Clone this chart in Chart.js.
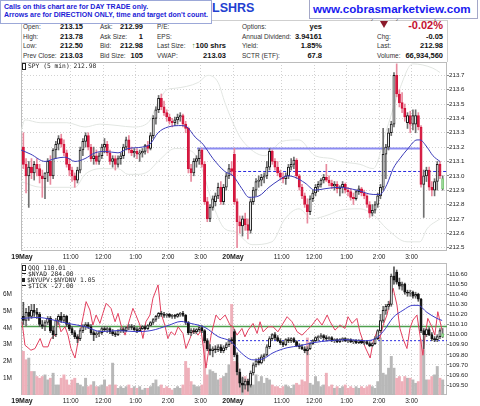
<!DOCTYPE html>
<html>
<head>
<meta charset="utf-8">
<script src="https://cdn.jsdelivr.net/npm/chart.js@4.4.0/dist/chart.umd.min.js"></script>
<style>
    body { margin: 0; background: #fff; font-family: "Liberation Sans", Arial, sans-serif; }
    #tela { position: relative; width: 480px; height: 406px; overflow: hidden; background: #fff; }
    .t { position: absolute; font-size: 6.5px; color: #333; line-height: 9px; white-space: nowrap; }
    .v { position: absolute; font-size: 7.5px; font-weight: bold; color: #111; line-height: 9px; text-align: right; white-space: nowrap; }
    .leg { position: absolute; left: 22px; font-family: "DejaVu Sans Mono", monospace; font-size: 6.3px; color: #222; white-space: nowrap; z-index: 2; }
    .icone { display: inline-block; vertical-align: middle; margin-right: 2px; }
    #aviso { position: absolute; left: 0; top: 0; width: 204px; height: 20px; padding: 2px 3px 0 3px; border: 1px solid #9ca8d8;
             background: #fff; color: #1c1cd6; font-weight: bold; font-size: 7px; line-height: 8px; z-index: 3; white-space: nowrap; }
    #simbolo { position: absolute; left: 212px; top: 1px; font-size: 12.5px; font-weight: bold; color: #2340d0; }
    #data { position: absolute; right: 36px; top: 13px; font-size: 7px; color: #666; }
    #site { position: absolute; left: 309px; top: -1px; width: 164px; height: 18px; padding-left: 3px; border: 1px solid #a4a8c8;
            background: #fff; color: #1a1af0; font-weight: bold; font-size: 11.6px; line-height: 18px; z-index: 3; }
    #moldura { position: absolute; left: 21px; top: 20px; width: 425px; height: 41px; border: 1px solid #cfcfcf; border-bottom: none; }
    canvas { position: absolute; left: 0; }
</style>
</head>
<body>
<div id="tela">
    <div id="moldura"></div>
    <div id="data">Wednesday 20 May 2015 3:51 pm</div>
    <div id="aviso">Calls on this chart are for DAY TRADE only.<br>Arrows are for DIRECTION ONLY, time and target don't count.</div>
    <div id="simbolo">LSHRS</div>
    <div id="site">www.cobrasmarketview.com</div>

    <div class="t" style="left:23px;top:22px">Open:</div><div class="v" style="right:397px;top:22px">213.15</div>
    <div class="t" style="left:100px;top:22px">Ask:</div><div class="v" style="right:337px;top:22px">212.99</div>
    <div class="t" style="left:157px;top:22px">P/E:</div>
    <div class="t" style="left:242px;top:22px">Options:</div><div class="v" style="right:158px;top:22px">yes</div>
    <div style="position:absolute;left:380px;top:21px;width:0;height:0;border-left:4px solid transparent;border-right:4px solid transparent;border-top:7px solid #8b1a2b"></div>
    <div class="v" style="right:37px;top:19px;font-size:11px;line-height:12px;color:#c41230">-0.02%</div>

    <div class="t" style="left:23px;top:31.5px">High:</div><div class="v" style="right:397px;top:31.5px">213.78</div>
    <div class="t" style="left:100px;top:31.5px">Ask Size:</div><div class="v" style="right:337px;top:31.5px">1</div>
    <div class="t" style="left:157px;top:31.5px">EPS:</div>
    <div class="t" style="left:242px;top:31.5px">Annual Dividend:</div><div class="v" style="right:158px;top:31.5px">3.94161</div>
    <div class="t" style="left:377px;top:31.5px">Chg:</div><div class="v" style="right:37px;top:31.5px">-0.05</div>

    <div class="t" style="left:23px;top:41px">Low:</div><div class="v" style="right:397px;top:41px">212.50</div>
    <div class="t" style="left:100px;top:41px">Bid:</div><div class="v" style="right:337px;top:41px">212.98</div>
    <div class="t" style="left:157px;top:41px">Last Size:</div><div class="v" style="right:254px;top:41px"><span style="color:#2a8a2a">&#8593;</span>100 shrs</div>
    <div class="t" style="left:242px;top:41px">Yield:</div><div class="v" style="right:158px;top:41px">1.85%</div>
    <div class="t" style="left:377px;top:41px">Last:</div><div class="v" style="right:37px;top:41px">212.98</div>

    <div class="t" style="left:23px;top:50.5px">Prev Close:</div><div class="v" style="right:397px;top:50.5px">213.03</div>
    <div class="t" style="left:100px;top:50.5px">Bid Size:</div><div class="v" style="right:337px;top:50.5px">105</div>
    <div class="t" style="left:157px;top:50.5px">VWAP:</div><div class="v" style="right:254px;top:50.5px">213.03</div>
    <div class="t" style="left:242px;top:50.5px">SCTR (ETF):</div><div class="v" style="right:158px;top:50.5px">67.8</div>
    <div class="t" style="left:377px;top:50.5px">Volume:</div><div class="v" style="right:37px;top:50.5px">66,934,560</div>

    <canvas id="graficoPreco" width="480" height="202" style="top:60px"></canvas>
    <canvas id="graficoInferior" width="480" height="144" style="top:262px"></canvas>

    <div class="leg" style="top:62px"><span class="icone" style="width:2px;height:5px;border:1px solid #222"></span>SPY (5 min) 212.98</div>
    <div class="leg" style="top:263.5px"><span class="icone" style="width:2px;height:4px;border:1px solid #222"></span>QQQ 110.01</div>
    <div class="leg" style="top:269.5px"><span class="icone" style="width:4px;height:1px;background:#222"></span>$NYAD 284.00</div>
    <div class="leg" style="top:275.5px"><span class="icone" style="width:3px;height:4px;background:#222"></span>$NYUPV:$NYDNV 1.05</div>
    <div class="leg" style="top:281.5px"><span class="icone" style="width:4px;height:1px;background:#222"></span>$TICK -27.00</div>
</div>

<script>
// eixo do tempo: posicao em barras de 5 min (78 por pregao)
var posHoras = [0, 18, 30, 42, 54, 66, 78, 96, 108, 120, 132, 144];
var rotHoras = ['19May', '11:00', '12:00', '1:00', '2:00', '3:00', '20May', '11:00', '12:00', '1:00', '2:00', '3:00'];
var inicioDias = [0, 78];

var spyTicks = [212.5, 212.6, 212.7, 212.8, 212.9, 213.0, 213.1, 213.2, 213.3, 213.4, 213.5, 213.6, 213.7];
var qqqTicks = [109.5, 109.6, 109.7, 109.8, 109.9, 110.0, 110.1, 110.2, 110.3, 110.4, 110.5, 110.6];
var volTicks = [1, 2, 3, 4, 5, 6];

// SPY 5 min
var spyAbre = [
    213.20, 213.08, 213.00, 213.06, 213.02, 213.08, 213.05, 213.00, 212.98, 213.02,
    213.10, 213.00, 213.18, 213.22, 213.26, 213.22, 213.16, 213.08, 213.04, 213.00,
    212.97, 213.04, 213.18, 213.24, 213.28, 213.20, 213.12, 213.14, 213.10, 213.14,
    213.20, 213.22, 213.16, 213.10, 213.12, 213.08, 213.12, 213.14, 213.20, 213.25,
    213.18, 213.16, 213.17, 213.15, 213.16, 213.17, 213.21, 213.19, 213.28, 213.40,
    213.46, 213.54, 213.48, 213.44, 213.41, 213.38, 213.37, 213.39, 213.41, 213.42,
    213.36, 213.33, 213.05, 213.02, 213.10, 213.12, 213.18, 213.08, 212.82, 212.70,
    212.78, 212.82, 212.86, 212.92, 212.82, 212.92, 213.00, 213.05,
    213.15, 212.82, 212.68, 212.65, 212.70, 212.66, 212.62, 212.82, 212.90, 212.96,
    212.97, 212.99, 213.00, 213.06, 213.17, 213.10, 213.06, 213.02, 212.99, 212.98,
    213.00, 213.06, 213.08, 213.11, 213.00, 212.92, 212.86, 212.80, 212.75, 212.84,
    212.88, 212.92, 212.94, 212.97, 212.99, 212.97, 212.95, 212.93, 212.94, 212.91,
    212.92, 212.94, 212.90, 212.89, 212.85, 212.84, 212.89, 212.91, 212.88, 212.86,
    212.80, 212.74, 212.76, 212.80, 212.86, 212.92, 213.15, 213.20, 213.30, 213.36,
    213.70, 213.57, 213.51, 213.47, 213.37, 213.42, 213.36, 213.36, 213.42, 213.34,
    212.94, 213.00, 213.04, 212.92, 212.90, 212.96, 213.08, 212.91];
var spyMax = [
    213.30, 213.12, 213.10, 213.12, 213.10, 213.12, 213.08, 213.04, 213.02, 213.12,
    213.14, 213.19, 213.24, 213.28, 213.29, 213.25, 213.18, 213.12, 213.06, 213.02,
    213.06, 213.20, 213.26, 213.30, 213.30, 213.22, 213.20, 213.18, 213.16, 213.22,
    213.26, 213.24, 213.18, 213.14, 213.14, 213.14, 213.16, 213.22, 213.27, 213.28,
    213.20, 213.19, 213.19, 213.18, 213.19, 213.22, 213.24, 213.30, 213.42, 213.48,
    213.56, 213.57, 213.52, 213.46, 213.43, 213.40, 213.41, 213.43, 213.44, 213.43,
    213.38, 213.34, 213.08, 213.12, 213.14, 213.19, 213.19, 213.10, 212.85, 212.80,
    212.86, 212.88, 212.95, 212.96, 212.94, 213.02, 213.08, 213.10,
    213.19, 212.84, 212.72, 212.72, 212.74, 212.70, 212.84, 212.92, 212.98, 213.00,
    213.01, 213.02, 213.10, 213.19, 213.18, 213.12, 213.10, 213.04, 213.02, 213.02,
    213.08, 213.12, 213.13, 213.12, 213.01, 212.94, 212.88, 212.84, 212.86, 212.90,
    212.94, 212.96, 212.98, 213.01, 213.08, 213.00, 212.97, 212.96, 212.96, 212.93,
    212.96, 212.95, 212.92, 212.91, 212.88, 212.90, 212.93, 212.92, 212.90, 212.87,
    212.82, 212.80, 212.82, 212.88, 212.94, 213.33, 213.22, 213.33, 213.38, 213.72,
    213.78, 213.60, 213.58, 213.50, 213.44, 213.45, 213.46, 213.46, 213.44, 213.35,
    213.04, 213.06, 213.06, 212.96, 212.98, 213.10, 213.10, 213.00];
var spyMin = [
    213.05, 212.88, 212.78, 212.98, 212.97, 213.00, 212.95, 212.85, 212.84, 212.96,
    212.94, 212.98, 213.12, 213.18, 213.20, 213.14, 213.06, 213.00, 212.96, 212.92,
    212.95, 213.02, 213.14, 213.20, 213.18, 213.10, 213.08, 213.08, 213.08, 213.12,
    213.16, 213.14, 213.08, 213.06, 213.04, 213.06, 213.08, 213.12, 213.18, 213.16,
    213.14, 213.13, 213.12, 213.10, 213.13, 213.15, 213.16, 213.18, 213.26, 213.36,
    213.44, 213.46, 213.42, 213.38, 213.36, 213.34, 213.35, 213.36, 213.38, 213.34,
    213.30, 213.02, 212.96, 213.00, 213.06, 213.08, 213.06, 212.80, 212.68, 212.68,
    212.76, 212.79, 212.84, 212.80, 212.80, 212.90, 212.98, 213.00,
    212.80, 212.50, 212.60, 212.58, 212.62, 212.56, 212.60, 212.80, 212.86, 212.92,
    212.93, 212.95, 212.98, 213.04, 213.08, 213.04, 213.00, 212.97, 212.95, 212.94,
    212.98, 213.04, 213.05, 212.98, 212.90, 212.84, 212.78, 212.67, 212.73, 212.82,
    212.86, 212.89, 212.92, 212.95, 212.96, 212.93, 212.91, 212.90, 212.88, 212.86,
    212.88, 212.88, 212.86, 212.83, 212.80, 212.83, 212.87, 212.86, 212.84, 212.78,
    212.71, 212.72, 212.74, 212.78, 212.84, 212.90, 212.98, 213.18, 213.28, 213.34,
    213.55, 213.48, 213.44, 213.38, 213.33, 213.30, 213.32, 213.30, 213.32, 212.92,
    212.71, 212.96, 212.90, 212.86, 212.86, 212.90, 212.98, 212.90];
var spyFecha = [
    213.08, 213.00, 213.06, 213.02, 213.08, 213.05, 213.00, 212.98, 213.02, 213.10,
    213.00, 213.18, 213.22, 213.26, 213.22, 213.16, 213.08, 213.04, 213.00, 212.97,
    213.04, 213.18, 213.24, 213.28, 213.20, 213.12, 213.14, 213.10, 213.14, 213.20,
    213.22, 213.16, 213.10, 213.12, 213.08, 213.12, 213.14, 213.20, 213.25, 213.18,
    213.16, 213.17, 213.15, 213.16, 213.17, 213.21, 213.19, 213.28, 213.40, 213.46,
    213.54, 213.48, 213.44, 213.41, 213.38, 213.37, 213.39, 213.41, 213.42, 213.36,
    213.33, 213.05, 213.02, 213.10, 213.12, 213.18, 213.08, 212.82, 212.70, 212.78,
    212.84, 212.86, 212.92, 212.82, 212.92, 213.00, 213.05, 213.03,
    212.82, 212.68, 212.65, 212.70, 212.66, 212.62, 212.82, 212.90, 212.96, 212.97,
    212.99, 213.00, 213.06, 213.17, 213.10, 213.06, 213.02, 212.99, 212.98, 213.00,
    213.06, 213.08, 213.11, 213.00, 212.92, 212.86, 212.80, 212.75, 212.84, 212.88,
    212.92, 212.94, 212.97, 212.99, 212.97, 212.95, 212.93, 212.94, 212.91, 212.92,
    212.94, 212.90, 212.89, 212.85, 212.84, 212.89, 212.91, 212.88, 212.86, 212.80,
    212.74, 212.76, 212.80, 212.86, 212.92, 213.15, 213.20, 213.30, 213.36, 213.70,
    213.57, 213.51, 213.47, 213.41, 213.42, 213.36, 213.42, 213.42, 213.34, 212.94,
    213.00, 213.04, 212.92, 212.90, 212.96, 213.08, 213.00, 212.98];

// media movel e bandas do SPY (posicao em barras)
var spyMediaPos = [-0.37, 3.3, 8.5, 12.2, 15.9, 19.6, 23.3, 27.0, 30.7, 35.5, 39.2, 44.4, 47.3, 50.3, 54.0, 59.1, 61.0, 64.0, 66.9, 70.6,
    75.0, 78.0, 81.3, 83.9, 87.6, 91.3, 95.0, 98.0, 100.9, 104.6, 108.3, 112.0, 117.2, 123.8, 129.8, 132.3, 134.9, 137.2, 139.7, 142.7,
    146.0, 147.1, 149.7, 151.9, 154.5];
var spyMedia = [213.18, 213.15, 213.10, 213.12, 213.13, 213.10, 213.12, 213.16, 213.17, 213.16, 213.19, 213.20, 213.22, 213.30, 213.34, 213.35, 213.34, 213.27, 213.22, 213.12,
    213.03, 213.00, 212.91, 212.85, 212.86, 212.92, 212.97, 213.00, 212.99, 212.95, 212.90, 212.91, 212.92, 212.90, 212.87, 212.87, 212.94, 213.05, 213.12, 213.19,
    213.25, 213.25, 213.20, 213.14, 213.10];
var bandaSupPos = [-0.37, 1.1, 6.7, 16.6, 23.3, 28.8, 35.5, 41.0, 46.6, 50.3, 53.6, 56.6, 65.1, 68.8, 72.5, 75.0, 78.7, 81.3, 89.8, 96.1,
    102.4, 108.3, 114.6, 117.6, 124.9, 129.8, 134.9, 139.7, 144.4, 151.9, 154.5];
var bandaSup = [213.31, 213.39, 213.37, 213.37, 213.34, 213.36, 213.35, 213.34, 213.37, 213.51, 213.60, 213.61, 213.65, 213.70, 213.65, 213.51, 213.34, 213.25, 213.14, 213.24,
    213.25, 213.14, 213.12, 213.10, 213.08, 213.05, 213.33, 213.61, 213.78, 213.75, 213.72];
var bandaInfPos = [-0.37, 7.0, 13.3, 19.6, 23.3, 29.2, 35.5, 39.2, 42.9, 46.6, 50.3, 56.6, 62.8, 66.5, 70.2, 75.0, 78.7, 85.0, 92.4, 97.2,
    102.4, 107.2, 113.5, 117.6, 124.9, 129.8, 134.9, 142.3, 147.1, 149.7, 154.5];
var bandaInf = [212.96, 212.92, 212.92, 212.92, 213.01, 213.05, 213.05, 213.01, 213.01, 213.03, 213.10, 213.19, 213.17, 213.05, 212.82, 212.63, 212.61, 212.52, 212.54, 212.70,
    212.77, 212.70, 212.73, 212.76, 212.77, 212.73, 212.63, 212.54, 212.54, 212.63, 212.70];

var spyResistencia = 213.19, resistenciaDe = 64.7, resistenciaAte = 147.1;
var spyFechAnterior = 213.03, spyFechDe = 76.2;

// QQQ 5 min
var qqqAbre = [
    110.18, 110.14, 110.22, 110.18, 110.24, 110.22, 110.20, 110.10, 110.08, 110.12,
    110.16, 110.04, 110.00, 110.14, 110.18, 110.14, 110.18, 110.10, 110.06, 110.02,
    109.98, 109.96, 110.04, 110.08, 110.10, 110.08, 110.02, 110.00, 110.01, 110.02,
    110.06, 110.05, 110.06, 110.03, 110.01, 110.00, 110.04, 110.05, 110.04, 110.07,
    110.08, 110.07, 110.05, 110.04, 110.06, 110.08, 110.06, 110.09, 110.12, 110.15,
    110.18, 110.21, 110.20, 110.19, 110.20, 110.18, 110.19, 110.18, 110.20, 110.21,
    110.19, 110.12, 110.02, 110.04, 110.03, 110.05, 110.07, 110.04, 109.94, 109.86,
    109.84, 109.86, 109.85, 109.88, 109.84, 109.87, 109.90, 109.95,
    110.03, 109.80, 109.63, 109.52, 109.50, 109.54, 109.50, 109.62, 109.70, 109.74,
    109.72, 109.78, 109.80, 109.88, 109.96, 110.00, 109.97, 109.94, 109.92, 109.90,
    109.95, 109.94, 109.96, 109.93, 109.89, 109.88, 109.86, 109.84, 109.86, 109.91,
    109.94, 109.97, 109.98, 109.99, 109.97, 109.96, 109.97, 109.94, 109.95, 109.93,
    109.95, 109.96, 109.94, 109.95, 109.93, 109.94, 109.92, 109.94, 109.92, 109.93,
    109.91, 109.89, 109.91, 109.96, 110.04, 110.14, 110.24, 110.28, 110.30, 110.58,
    110.62, 110.52, 110.48, 110.50, 110.42, 110.41, 110.42, 110.38, 110.40, 110.35,
    110.04, 110.00, 110.05, 110.00, 109.96, 109.95, 109.98, 109.98];
var qqqMax = [
    110.32, 110.26, 110.28, 110.30, 110.30, 110.26, 110.22, 110.14, 110.14, 110.18,
    110.18, 110.08, 110.16, 110.20, 110.22, 110.20, 110.19, 110.12, 110.08, 110.04,
    110.00, 110.06, 110.10, 110.12, 110.12, 110.10, 110.04, 110.03, 110.04, 110.08,
    110.08, 110.08, 110.07, 110.05, 110.03, 110.05, 110.07, 110.07, 110.08, 110.10,
    110.10, 110.09, 110.07, 110.07, 110.09, 110.09, 110.10, 110.13, 110.16, 110.19,
    110.22, 110.23, 110.22, 110.21, 110.21, 110.20, 110.20, 110.21, 110.22, 110.23,
    110.20, 110.13, 110.06, 110.06, 110.06, 110.09, 110.09, 110.05, 109.96, 109.90,
    109.88, 109.89, 109.90, 109.90, 109.89, 109.92, 109.96, 109.97,
    110.05, 109.82, 109.66, 109.58, 109.56, 109.56, 109.64, 109.72, 109.76, 109.77,
    109.80, 109.81, 109.90, 109.98, 110.01, 110.02, 109.99, 109.96, 109.93, 109.96,
    109.97, 109.97, 109.97, 109.94, 109.91, 109.90, 109.88, 109.88, 109.92, 109.95,
    109.98, 109.99, 110.01, 110.00, 109.99, 109.98, 109.98, 109.96, 109.96, 109.96,
    109.97, 109.97, 109.96, 109.96, 109.95, 109.95, 109.95, 109.95, 109.94, 109.94,
    109.93, 109.92, 109.98, 110.05, 110.20, 110.28, 110.30, 110.33, 110.60, 110.67,
    110.64, 110.56, 110.52, 110.51, 110.44, 110.44, 110.43, 110.42, 110.41, 110.36,
    110.06, 110.06, 110.07, 110.02, 109.98, 110.00, 110.06, 110.06];
var qqqMin = [
    110.10, 110.08, 110.14, 110.16, 110.18, 110.16, 110.08, 110.06, 110.04, 110.10,
    110.02, 109.96, 109.98, 110.10, 110.12, 110.12, 110.08, 110.04, 110.00, 109.96,
    109.92, 109.94, 110.02, 110.05, 110.06, 110.00, 109.94, 109.97, 109.98, 110.00,
    110.03, 110.02, 110.01, 109.99, 109.98, 109.99, 110.02, 110.02, 110.03, 110.05,
    110.05, 110.04, 110.02, 110.03, 110.05, 110.05, 110.05, 110.08, 110.10, 110.13,
    110.16, 110.18, 110.17, 110.17, 110.17, 110.16, 110.16, 110.17, 110.18, 110.18,
    110.10, 110.00, 109.99, 110.01, 110.01, 110.03, 110.02, 109.92, 109.84, 109.80,
    109.78, 109.82, 109.83, 109.82, 109.82, 109.85, 109.88, 109.91,
    109.78, 109.60, 109.48, 109.43, 109.46, 109.44, 109.48, 109.60, 109.68, 109.70,
    109.71, 109.74, 109.79, 109.86, 109.94, 109.95, 109.93, 109.90, 109.88, 109.89,
    109.92, 109.92, 109.92, 109.88, 109.86, 109.85, 109.82, 109.80, 109.85, 109.90,
    109.93, 109.94, 109.96, 109.95, 109.94, 109.94, 109.93, 109.92, 109.92, 109.92,
    109.93, 109.93, 109.92, 109.92, 109.91, 109.91, 109.91, 109.91, 109.90, 109.90,
    109.88, 109.88, 109.90, 109.95, 110.02, 110.12, 110.20, 110.25, 110.28, 110.50,
    110.50, 110.45, 110.44, 110.40, 110.38, 110.38, 110.36, 110.36, 110.33, 110.02,
    109.86, 109.98, 109.99, 109.94, 109.93, 109.93, 109.96, 109.97];
var qqqFecha = [
    110.14, 110.22, 110.18, 110.24, 110.22, 110.20, 110.10, 110.08, 110.12, 110.16,
    110.04, 110.00, 110.14, 110.18, 110.14, 110.18, 110.10, 110.06, 110.02, 109.98,
    109.96, 110.04, 110.08, 110.10, 110.08, 110.02, 110.00, 110.01, 110.02, 110.06,
    110.05, 110.06, 110.03, 110.01, 110.00, 110.04, 110.05, 110.04, 110.07, 110.08,
    110.07, 110.05, 110.04, 110.06, 110.08, 110.06, 110.09, 110.12, 110.15, 110.18,
    110.21, 110.20, 110.19, 110.20, 110.18, 110.19, 110.18, 110.20, 110.21, 110.19,
    110.12, 110.02, 110.04, 110.03, 110.05, 110.07, 110.04, 109.94, 109.86, 109.84,
    109.86, 109.85, 109.88, 109.84, 109.87, 109.90, 109.94, 109.94,
    109.80, 109.63, 109.52, 109.50, 109.54, 109.50, 109.62, 109.70, 109.74, 109.72,
    109.78, 109.80, 109.88, 109.96, 110.00, 109.97, 109.94, 109.92, 109.90, 109.95,
    109.94, 109.96, 109.93, 109.89, 109.88, 109.86, 109.84, 109.86, 109.91, 109.94,
    109.97, 109.98, 109.99, 109.97, 109.96, 109.97, 109.94, 109.95, 109.93, 109.95,
    109.96, 109.94, 109.95, 109.93, 109.94, 109.92, 109.94, 109.92, 109.93, 109.91,
    109.89, 109.91, 109.96, 110.04, 110.14, 110.24, 110.28, 110.30, 110.58, 110.54,
    110.52, 110.48, 110.50, 110.42, 110.41, 110.42, 110.38, 110.40, 110.35, 110.04,
    110.00, 110.05, 110.00, 109.96, 109.95, 109.98, 110.04, 110.01];

var qqqMediaPos = [-0.37, 5.9, 10.7, 17.0, 23.3, 29.2, 35.5, 41.8, 47.7, 54.0, 58.8, 62.5, 67.7, 72.5, 77.3, 80.6, 85.4, 89.1, 92.8, 98.0,
    102.8, 107.6, 113.9, 120.1, 126.1, 129.8, 133.5, 137.2, 140.8, 144.5, 146.4, 149.7, 153.4, 155.3];
var qqqMedia = [110.16, 110.17, 110.15, 110.11, 110.08, 110.03, 110.04, 110.03, 110.04, 110.09, 110.13, 110.11, 110.07, 109.98, 109.93, 109.83, 109.75, 109.76, 109.82, 109.87,
    109.89, 109.92, 109.94, 109.95, 109.94, 109.95, 110.03, 110.17, 110.24, 110.29, 110.29, 110.22, 110.16, 110.14];
var qqqNivel = 110.08;
var qqqFechAnterior = 109.94, qqqFechDe = 76.9;

// barras do painel inferior (milhoes)
var volume = [
    2.6, 2.1, 2.2, 1.4, 1.4, 1.1, 1.0, 1.1, 1.2, 0.9,
    1.0, 1.3, 0.6, 0.6, 1.0, 1.2, 0.9, 0.6, 0.9, 1.0,
    0.7, 0.6, 0.5, 1.0, 0.5, 0.6, 0.8, 0.5, 0.5, 0.6,
    0.9, 0.5, 0.6, 1.9, 0.6, 0.4, 0.5, 0.4, 0.5, 0.6,
    0.4, 0.5, 0.4, 0.5, 0.3, 0.4, 0.4, 0.5, 0.7, 0.9,
    0.5, 0.6, 0.4, 0.5, 0.4, 0.3, 0.4, 0.5, 0.4, 0.6,
    2.0, 1.6, 0.8, 0.6, 0.5, 0.5, 0.6, 3.4, 1.2, 1.5,
    1.4, 1.3, 0.9, 1.0, 1.1, 1.3, 1.8, 5.4,
    2.0, 1.9, 1.2, 1.0, 1.1, 0.9, 1.0, 0.6, 1.2, 0.8,
    1.1, 0.7, 1.0, 0.9, 0.6, 0.5, 0.5, 0.4, 0.5, 0.6,
    0.5, 0.4, 0.6, 0.7, 0.6, 0.9, 0.8, 3.4, 0.7, 0.6,
    1.1, 0.8, 0.5, 0.6, 1.3, 0.5, 0.6, 0.4, 0.5, 0.4,
    0.5, 0.6, 0.4, 0.5, 0.4, 0.5, 0.4, 0.5, 0.4, 0.5,
    0.6, 0.5, 0.4, 0.8, 3.4, 1.3, 1.2, 1.6, 2.3, 1.6,
    1.0, 1.1, 0.8, 1.1, 1.0, 1.0, 0.9, 0.7, 0.8, 3.3,
    2.7, 0.9, 0.9, 1.1, 1.2, 1.7, 1.0, 0.9];

// $TICK (linha vermelha)
var tickPos = [0, 1.1, 3.3, 4.8, 6.7, 7.8, 9.6, 10.7, 12.2, 13.3, 14.4, 15.9, 17.0, 18.1, 19.6, 20.7, 22.6, 23.7, 25.1, 26.2,
    27.4, 28.8, 29.9, 31.1, 32.9, 34.4, 35.5, 36.6, 38.1, 39.9, 41.0, 42.1, 43.6, 44.7, 45.8, 47.3, 48.4, 50.3, 51.4, 52.8,
    53.9, 55.1, 56.5, 57.7, 59.5, 60.6, 62.1, 63.2, 65.1, 66.2, 68.0, 69.9, 71.7, 73.2, 75.1, 76.9,
    78.0, 79.5, 81.3, 82.4, 83.6, 85.4, 86.9, 88.0, 89.1, 91.0, 92.8, 94.6, 96.5, 98.0, 99.8, 101.7, 103.5, 105.4, 107.2, 109.1,
    110.9, 112.8, 113.9, 115.7, 117.6, 119.4, 120.5, 122.0, 123.8, 124.9, 126.8, 128.7, 129.8, 131.2, 132.3, 133.5, 134.9, 136.0, 137.2, 138.6,
    139.7, 140.8, 142.3, 143.4, 144.5, 146.0, 147.1, 148.2, 148.9, 150.0, 151.5, 152.6, 153.7, 155.3];
var tickVal = [130, -290, -380, -350, -170, -320, -320, -170, -110, 160, -50, 40, -110, -350, -520, -230, 220, 490, 340, 70,
    250, 100, 280, 460, 370, 130, 280, 70, -110, 190, 370, 250, 70, -170, 130, 250, 550, 790, 280, 70,
    -170, -50, -110, 40, -80, -350, -170, -20, -110, -20, -700, -110, 250, 160, 250, 70,
    40, -110, 10, -140, -20, 100, -80, 130, -50, 40, 40, -50, 100, 220, 130, -50, -110, -20, 70, 190,
    70, 250, 130, -20, 70, 10, 220, 100, 190, -50, -320, -520, -230, -50, -170, 70, 250, 490, 730, 430,
    10, -170, -350, 10, 160, 250, -110, -470, -170, 190, 40, -110, 310, -30];

function pontos(pos, val) {
    return pos.map(function (p, i) { return { x: p, y: val[i] }; });
}

function linhaReta(de, ate, valor) {
    return [{ x: de, y: valor }, { x: ate, y: valor }];
}

function velas(abre, max, min, fecha, corBaixa, corPavio, eixo) {
    var ultimo = abre.length - 1;
    var corpos = abre.map(function (o, i) { return { x: i + 0.5, y: [o, fecha[i]] }; });
    var pavios = max.map(function (h, i) { return { x: i + 0.5, y: [min[i], h] }; });
    return [{
        type: 'bar', data: corpos, yAxisID: eixo, grouped: false, order: 1,
        barThickness: 2.3, minBarLength: 1, borderSkipped: false, borderWidth: 1,
        backgroundColor: function (c) {
            var i = c.dataIndex;
            if (i === ultimo) return '#a6e3a0';
            return fecha[i] < abre[i] ? corBaixa : '#ffffff';
        },
        borderColor: function (c) {
            var i = c.dataIndex;
            if (i === ultimo) return '#79c777';
            return fecha[i] < abre[i] ? corBaixa : '#1a1a1a';
        }
    }, {
        type: 'bar', data: pavios, yAxisID: eixo, grouped: false, order: 2,
        barThickness: 1, borderWidth: 0,
        backgroundColor: function (c) {
            var i = c.dataIndex;
            return fecha[i] < abre[i] ? corPavio : '#707070';
        }
    }];
}

function linha(dados, cor, eixo, ordem, extra) {
    var d = { type: 'line', data: dados, yAxisID: eixo, order: ordem, borderColor: cor, borderWidth: 1,
              pointRadius: 0, fill: false, cubicInterpolationMode: 'monotone' };
    for (var k in extra) d[k] = extra[k];
    return d;
}

var moldura = {
    id: 'moldura',
    beforeDatasetsDraw: function (chart) {
        var a = chart.chartArea, ctx = chart.ctx;
        ctx.save();
        ctx.strokeStyle = '#bcbcbc';
        ctx.lineWidth = 1;
        ctx.strokeRect(a.left + 0.5, a.top + 0.5, a.right - a.left - 1, a.bottom - a.top - 1);
        ctx.restore();
    }
};

function eixoTempo() {
    return {
        type: 'linear', position: 'bottom', min: -0.37, max: 157.1, offset: false,
        afterBuildTicks: function (s) { s.ticks = posHoras.map(function (v) { return { value: v }; }); },
        afterFit: function (s) { s.height = 11; s.paddingLeft = 0; s.paddingRight = 0; },
        grid: { color: '#d2d2d2', drawTicks: false, offset: false },
        border: { display: false, dash: [1, 2] },
        ticks: {
            autoSkip: false, maxRotation: 0, padding: 2, color: '#222',
            font: function (c) {
                var dia = c.tick && inicioDias.indexOf(c.tick.value) >= 0;
                return { family: 'Liberation Sans', size: dia ? 7 : 6.5, weight: dia ? 'bold' : 'normal' };
            },
            callback: function (v, i) { return rotHoras[i]; }
        }
    };
}

function eixoPreco(min, max, marcas, casas) {
    return {
        position: 'right', min: min, max: max,
        afterBuildTicks: function (s) { s.ticks = marcas.map(function (v) { return { value: v }; }); },
        afterFit: function (s) { s.width = 33; s.paddingTop = 0; s.paddingBottom = 0; },
        grid: { color: '#d2d2d2', tickLength: 2, tickColor: '#888' },
        border: { display: false, dash: [1, 2] },
        ticks: { padding: 0, color: '#222', font: { family: 'Liberation Sans', size: 6.2 },
                 callback: function (v) { return v.toFixed(casas); } }
    };
}

var opcoesBase = { responsive: false, animation: false, events: [], plugins: { legend: { display: false }, tooltip: { enabled: false } } };

var dadosPreco = [
    linha(pontos(spyMediaPos, spyMedia), '#3b3bb8', 'y', 0, {}),
    linha(linhaReta(resistenciaDe, resistenciaAte, spyResistencia), '#8c8cf2', 'y', 3, { borderWidth: 2 }),
    linha(linhaReta(spyFechDe, 157.1, spyFechAnterior), '#2a2ae0', 'y', 3, { borderDash: [3, 2] }),
    linha(pontos(bandaSupPos, bandaSup), '#e2e6e2', 'y', 8, {}),
    linha(pontos(bandaInfPos, bandaInf), '#e2e6e2', 'y', 8, {})
].concat(velas(spyAbre, spyMax, spyMin, spyFecha, '#d4143c', '#e88a9e', 'y'));

new Chart(document.getElementById('graficoPreco'), {
    type: 'bar',
    data: { datasets: dadosPreco },
    options: Object.assign({}, opcoesBase, {
        layout: { padding: { left: 21, top: 2, right: 0, bottom: 0 } },
        scales: { x: eixoTempo(), y: eixoPreco(212.476, 213.793, spyTicks, 1) }
    }),
    plugins: [moldura]
});

var barrasVolume = volume.map(function (v, i) { return { x: i + 0.5, y: v }; });

var dadosInferior = [
    linha(pontos(qqqMediaPos, qqqMedia), '#3b3bc8', 'yq', 0, {}),
    linha(pontos(tickPos, tickVal), '#e2405f', 'yt', 4, { cubicInterpolationMode: 'default', tension: 0 }),
    linha(linhaReta(qqqFechDe, 157.1, qqqFechAnterior), '#2a2ae0', 'yq', 5, { borderDash: [2, 2] }),
    linha(linhaReta(-0.37, 157.1, qqqNivel), '#4e9f4e', 'yq', 6, { borderWidth: 1.5 }),
    {
        type: 'bar', data: barrasVolume, yAxisID: 'yv', grouped: false, order: 9, barThickness: 2.3, borderWidth: 0,
        backgroundColor: function (c) {
            var i = c.dataIndex;
            return spyFecha[i] < spyAbre[i] ? '#eeb0ba' : '#b8b8b8';
        }
    }
].concat(velas(qqqAbre, qqqMax, qqqMin, qqqFecha, '#111111', '#555555', 'yq'));

var eixoVol = {
    position: 'left', min: 0, max: 7.86,
    afterBuildTicks: function (s) { s.ticks = volTicks.map(function (v) { return { value: v }; }); },
    afterFit: function (s) { s.width = 21; s.paddingTop = 0; s.paddingBottom = 0; },
    grid: { display: false },
    border: { display: false },
    ticks: { padding: 1, color: '#222', font: { family: 'Liberation Sans', size: 6.5 },
             callback: function (v) { return v + 'M'; } }
};

new Chart(document.getElementById('graficoInferior'), {
    type: 'bar',
    data: { datasets: dadosInferior },
    options: Object.assign({}, opcoesBase, {
        layout: { padding: { left: 0, top: 1, right: 0, bottom: 0 } },
        scales: {
            x: eixoTempo(),
            yq: eixoPreco(109.402, 110.709, qqqTicks, 2),
            yv: eixoVol,
            yt: { display: false, min: -1182, max: 1182 }
        }
    }),
    plugins: [moldura]
});
</script>
</body>
</html>
